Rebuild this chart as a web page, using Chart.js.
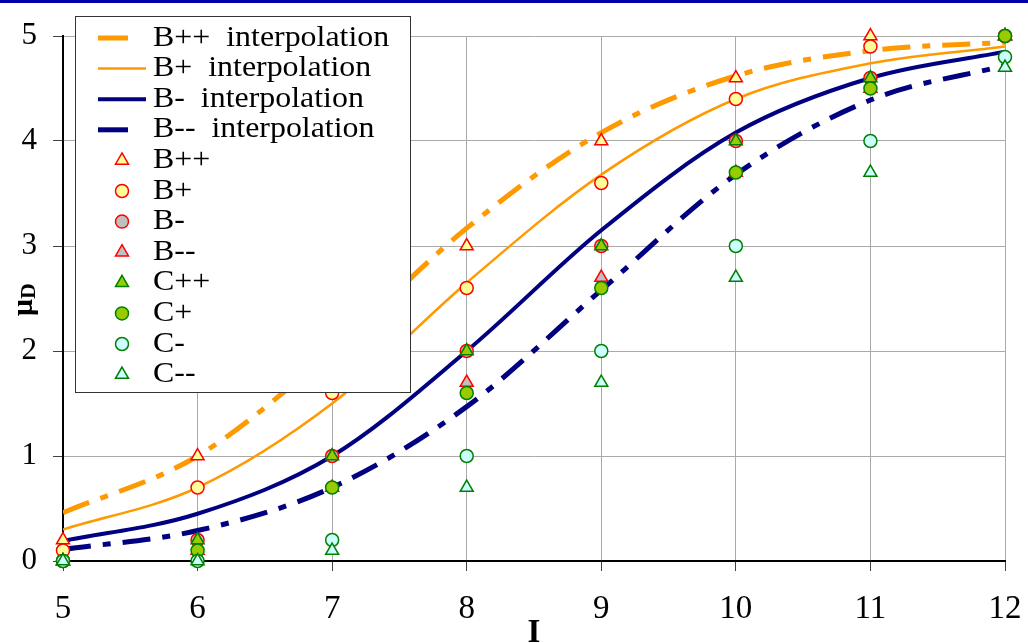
<!DOCTYPE html>
<html>
<head>
<meta charset="utf-8">
<script src="https://cdn.jsdelivr.net/npm/chart.js@4.4.1/dist/chart.umd.min.js"></script>
<style>
  html, body { margin: 0; padding: 0; background: #fff; }
  #wrap { width: 1028px; height: 643px; position: relative; }
</style>
</head>
<body>
<div id="wrap"><canvas id="mu-chart"></canvas></div>
<script>
/* global Chart */
( function () {
	'use strict';

	// ---------------------------------------------------------------
	// Data
	// ---------------------------------------------------------------
	const I_VALUES = [ 5, 6, 7, 8, 9, 10, 11, 12 ];

	const B_PP = [ 0.2, 1.0, 2.0, 3.0, 4.0, 4.6, 5.0, 5.0 ];
	const B_P  = [ 0.1, 0.7, 1.6, 2.6, 3.6, 4.4, 4.9, 5.0 ];
	const B_M  = [ 0.0, 0.2, 1.0, 2.0, 3.0, 4.0, 4.6, 5.0 ];
	const B_MM = [ 0.0, 0.1, 0.7, 1.7, 2.7, 3.7, 4.5, 5.0 ];
	const C_PP = [ 0.0, 0.2, 1.0, 2.0, 3.0, 4.0, 4.6, 5.0 ];
	const C_P  = [ 0.0, 0.1, 0.7, 1.6, 2.6, 3.7, 4.5, 5.0 ];
	const C_M  = [ 0.0, 0.0, 0.2, 1.0, 2.0, 3.0, 4.0, 4.8 ];
	const C_MM = [ 0.0, 0.0, 0.1, 0.7, 1.7, 2.7, 3.7, 4.7 ];

	// interpolation curves
	const CURVE_X  = [ 5, 6, 7, 8, 9, 10, 11, 12 ];
	const FIT_B_PP = [ 0.46, 1.0, 2.0, 3.17, 4.08, 4.62, 4.86, 4.94 ];
	const FIT_B_P  = [ 0.30, 0.70, 1.5, 2.65, 3.68, 4.40, 4.74, 4.90 ];
	const FIT_B_M  = [ 0.19, 0.45, 1.0, 2.0, 3.15, 4.08, 4.60, 4.85 ];
	const FIT_B_MM = [ 0.11, 0.29, 0.7, 1.47, 2.58, 3.68, 4.39, 4.72 ];

	const Y_TICKS = [ 0, 1, 2, 3, 4, 5 ];
	const X_TICKS = [ 5, 6, 7, 8, 9, 10, 11, 12 ];

	const ORANGE = '#ff9900';
	const NAVY   = '#000080';
	const RED    = '#ff0000';
	const GREEN  = '#008000';
	const SERIF  = '"Liberation Serif", "Times New Roman", serif';
	const DASH   = [ 28, 12, 8, 12 ];

	const xy = ( xs, ys ) => xs.map( ( x, i ) => ( { x, y: ys[ i ] } ) );

	// ---------------------------------------------------------------
	// Datasets
	// ---------------------------------------------------------------
	const curves = [
		{ label: 'B++  interpolation', data: FIT_B_PP, color: ORANGE, width: 5, dash: DASH },
		{ label: 'B+  interpolation',  data: FIT_B_P,  color: ORANGE, width: 2.5, dash: [] },
		{ label: 'B-  interpolation',  data: FIT_B_M,  color: NAVY,   width: 4, dash: [] },
		{ label: 'B--  interpolation', data: FIT_B_MM, color: NAVY,   width: 5, dash: DASH },
	];

	const markers = [
		{ label: 'B++', data: B_PP, style: 'triangle', fill: '#ffff99', edge: RED },
		{ label: 'B+',  data: B_P,  style: 'circle',   fill: '#ffff99', edge: RED },
		{ label: 'B-',  data: B_M,  style: 'circle',   fill: '#c0c0c0', edge: RED },
		{ label: 'B--', data: B_MM, style: 'triangle', fill: '#c0c0c0', edge: RED },
		{ label: 'C++', data: C_PP, style: 'triangle', fill: '#99cc00', edge: GREEN },
		{ label: 'C+',  data: C_P,  style: 'circle',   fill: '#99cc00', edge: GREEN },
		{ label: 'C-',  data: C_M,  style: 'circle',   fill: '#ccffff', edge: GREEN },
		{ label: 'C--', data: C_MM, style: 'triangle', fill: '#ccffff', edge: GREEN },
	];

	const markerRadius = ( style ) => ( style === 'triangle' ? 7.5 : 6.5 );

	const datasets = [
		...curves.map( c => ( {
			label                 : c.label,
			data                  : xy( CURVE_X, c.data ),
			borderColor           : c.color,
			borderWidth           : c.width,
			borderDash            : c.dash,
			cubicInterpolationMode: 'monotone',
			pointRadius           : 0,
			fill                  : false,
			order                 : 20,
		} ) ),
		// later series in the reference sit on top, lower order = drawn last
		...markers.map( ( m, i ) => ( {
			label           : m.label,
			data            : xy( I_VALUES, m.data ),
			showLine        : false,
			pointStyle      : m.style,
			pointRadius     : markerRadius( m.style ),
			pointBorderWidth: 1.5,
			backgroundColor : m.fill,
			borderColor     : m.edge,
			clip            : false,
			order           : markers.length - i,
		} ) ),
	];

	// ---------------------------------------------------------------
	// Frame: white page, blue rule on top, rotated μD label, legend box
	// ---------------------------------------------------------------
	const framePlugin = {
		id: 'frame',
		beforeDraw( chart ) {
			const ctx = chart.ctx;
			ctx.save();
			ctx.fillStyle = '#ffffff';
			ctx.fillRect( 0, 0, chart.width, chart.height );
			ctx.fillStyle = '#0000a8';
			ctx.fillRect( 0, 0, chart.width, 3 );
			ctx.restore();
		},
		afterDraw( chart ) {
			const ctx = chart.ctx;

			// y axis title  μ with subscript D
			ctx.save();
			ctx.translate( 32, 316 );
			ctx.rotate( -Math.PI / 2 );
			ctx.fillStyle = '#000';
			ctx.textBaseline = 'alphabetic';
			ctx.font = 'bold 30px ' + SERIF;
			ctx.fillText( 'μ', 0, 0 );
			const w = ctx.measureText( 'μ' ).width;
			ctx.font = 'bold 22px ' + SERIF;
			ctx.fillText( 'D', w, 3 );
			ctx.restore();

			// legend
			const box = { x: 75, y: 16, w: 335, h: 376 };
			ctx.save();
			ctx.fillStyle = '#ffffff';
			ctx.fillRect( box.x, box.y, box.w, box.h );
			ctx.strokeStyle = '#333333';
			ctx.lineWidth = 1;
			ctx.strokeRect( box.x + 0.5, box.y + 0.5, box.w, box.h );

			const rowY = ( i ) => 38 + i * 30.6;
			ctx.lineCap = 'butt';
			curves.forEach( ( c, i ) => {
				const y = rowY( i );
				ctx.beginPath();
				ctx.strokeStyle = c.color;
				ctx.lineWidth = c.width;
				ctx.moveTo( 98, y );
				ctx.lineTo( c.dash.length ? 128 : 146, y );
				ctx.stroke();
			} );
			markers.forEach( ( m, i ) => {
				const y = rowY( i + curves.length );
				ctx.fillStyle = m.fill;
				ctx.strokeStyle = m.edge;
				ctx.lineWidth = 1.5;
				Chart.helpers.drawPoint( ctx, {
					pointStyle : m.style,
					radius     : markerRadius( m.style ),
					rotation   : 0,
					borderWidth: 1.5,
				}, 122, y );
			} );

			ctx.fillStyle = '#000';
			ctx.textBaseline = 'middle';
			ctx.font = '29px ' + SERIF;
			const labels = [ ...curves.map( c => c.label ), ...markers.map( m => m.label ) ];
			labels.forEach( ( t, i ) => {
				ctx.save();
				ctx.translate( 153, rowY( i ) );
				ctx.scale( 1.1, 1 );
				ctx.fillText( t, 0, 0 );
				ctx.restore();
			} );
			ctx.restore();
		},
	};

	// ---------------------------------------------------------------
	// Chart
	// ---------------------------------------------------------------
	new Chart( document.getElementById( 'mu-chart' ), {
		type: 'line',
		data: { datasets },
		options: {
			responsive         : true,
			maintainAspectRatio: false,
			devicePixelRatio   : 1,
			animation          : false,
			layout: { padding: { top: 36, right: 23, left: 0, bottom: 0 } },
			plugins: {
				legend : { display: false },
				tooltip: { enabled: false },
			},
			scales: {
				x: {
					type: 'linear',
					min : X_TICKS[ 0 ],
					max : X_TICKS[ X_TICKS.length - 1 ],
					afterBuildTicks: ( s ) => { s.ticks = X_TICKS.map( v => ( { value: v } ) ); },
					afterFit: ( s ) => { s.height = 82; s.paddingLeft = 0; s.paddingRight = 0; },
					grid  : { color: '#aaaaaa', lineWidth: 1, tickLength: 10, tickColor: '#404040' },
					border: { color: '#000000', width: 2 },
					ticks : { color: '#000', padding: 19, font: { family: SERIF, size: 33 } },
					title : {
						display: true,
						text   : 'I',
						color  : '#000',
						font   : { family: SERIF, size: 33, weight: 'bold' },
						padding: { top: 0, bottom: -10 },
					},
				},
				y: {
					type: 'linear',
					min : Y_TICKS[ 0 ],
					max : Y_TICKS[ Y_TICKS.length - 1 ],
					afterBuildTicks: ( s ) => { s.ticks = Y_TICKS.map( v => ( { value: v } ) ); },
					afterFit: ( s ) => { s.width = 63; s.paddingTop = 0; s.paddingBottom = 0; },
					grid  : { color: '#aaaaaa', lineWidth: 1, tickLength: 10, tickColor: '#404040' },
					border: { color: '#000000', width: 2 },
					ticks : { color: '#000', padding: 16, font: { family: SERIF, size: 31 } },
				},
			},
		},
		plugins: [ framePlugin ],
	} );

} )();
</script>
</body>
</html>
